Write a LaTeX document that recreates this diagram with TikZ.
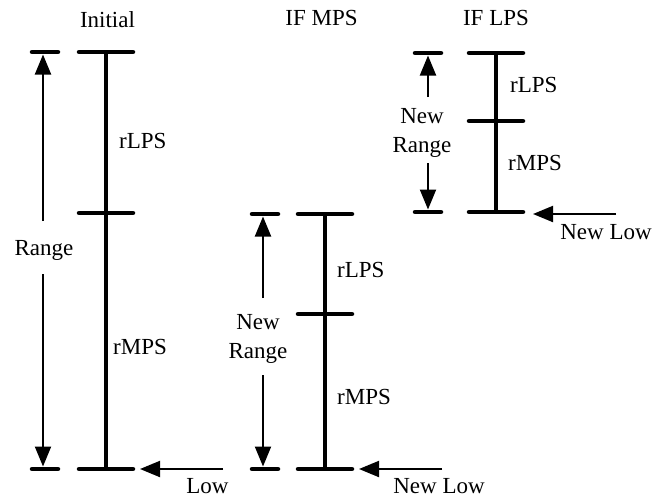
\documentclass[tikz,border=0pt]{standalone}
\usepackage{fontspec}
\setmainfont{Liberation Serif}
\usetikzlibrary{arrows.meta}
\begin{document}
\begin{tikzpicture}[x=1pt,y=-1pt,
  bar/.style={line width=4.5pt},
  tick/.style={line width=4.5pt,line cap=round},
  rangearrow/.style={line width=2pt,-{Triangle[length=20pt,width=16pt]}},
  lbl/.style={anchor=base,inner sep=0pt,font=\fontsize{23}{27}\selectfont},
  lbll/.style={lbl,anchor=base west}]
\useasboundingbox (0,0) rectangle (656,499);

% ---------- Initial ----------
\node[lbl] (t1) at (107.5,27) {Initial};
\coordinate (i-top) at (106,52);
\coordinate (i-mid) at (106,213);
\coordinate (i-bot) at (106,469);
\draw[bar] (i-top) -- (i-bot);
\draw[tick] (79,52) -- (133,52);
\draw[tick] (79,213) -- (133,213);
\draw[tick] (79,469) -- (133,469);
\draw[tick] (32,52) -- (58,52);
\draw[tick] (32,469) -- (58,469);
\node[lbll] (i-rlps) at (119,148) {rLPS};
\node[lbll] (i-rmps) at (113,354) {rMPS};
\node[lbl] (i-range) at (44,255) {Range};
\coordinate (i-au) at (43,221);
\coordinate (i-at) at (43,54.5);
\coordinate (i-ad) at (43,274);
\coordinate (i-ab) at (43,466.5);
\draw[rangearrow] (i-au) -- (i-at);
\draw[rangearrow] (i-ad) -- (i-ab);
\coordinate (i-lowtail) at (223,469);
\coordinate (i-lowtip) at (140,469);
\draw[rangearrow] (i-lowtail) -- (i-lowtip);
\node[lbl] (i-low) at (207.5,493) {Low};

% ---------- IF MPS ----------
\node[lbl] (t2) at (321.5,25) {IF MPS};
\coordinate (m-top) at (325,214);
\coordinate (m-mid) at (325,314);
\coordinate (m-bot) at (325,469);
\draw[bar] (m-top) -- (m-bot);
\draw[tick] (298,214) -- (352,214);
\draw[tick] (298,314) -- (352,314);
\draw[tick] (298,469) -- (352,469);
\draw[tick] (252,214) -- (278,214);
\draw[tick] (252,469) -- (278,469);
\node[lbll] (m-rlps) at (337,277) {rLPS};
\node[lbll] (m-rmps) at (337,404) {rMPS};
\node[lbl] (m-new) at (258,329) {New};
\node[lbl] (m-range) at (258,358) {Range};
\coordinate (m-au) at (263,298);
\coordinate (m-at) at (263,216.5);
\coordinate (m-ad) at (263,375);
\coordinate (m-ab) at (263,466.5);
\draw[rangearrow] (m-au) -- (m-at);
\draw[rangearrow] (m-ad) -- (m-ab);
\coordinate (m-lowtail) at (442,469);
\coordinate (m-lowtip) at (359,469);
\draw[rangearrow] (m-lowtail) -- (m-lowtip);
\node[lbl] (m-low) at (439,493) {New Low};

% ---------- IF LPS ----------
\node[lbl] (t3) at (496,25) {IF LPS};
\coordinate (l-top) at (496,53);
\coordinate (l-mid) at (496,121);
\coordinate (l-bot) at (496,212);
\draw[bar] (l-top) -- (l-bot);
\draw[tick] (469,53) -- (523,53);
\draw[tick] (469,121) -- (523,121);
\draw[tick] (469,212) -- (523,212);
\draw[tick] (415,53) -- (441,53);
\draw[tick] (415,212) -- (441,212);
\node[lbll] (l-rlps) at (510,92) {rLPS};
\node[lbll] (l-rmps) at (508,170) {rMPS};
\node[lbl] (l-new) at (422,123) {New};
\node[lbl] (l-range) at (422,152) {Range};
\coordinate (l-au) at (428,97);
\coordinate (l-at) at (428,55.5);
\coordinate (l-ad) at (428,163);
\coordinate (l-ab) at (428,209.5);
\draw[rangearrow] (l-au) -- (l-at);
\draw[rangearrow] (l-ad) -- (l-ab);
\coordinate (l-lowtail) at (616,214);
\coordinate (l-lowtip) at (533,214);
\draw[rangearrow] (l-lowtail) -- (l-lowtip);
\node[lbl] (l-low) at (606,239) {New Low};
\end{tikzpicture}
\end{document}
